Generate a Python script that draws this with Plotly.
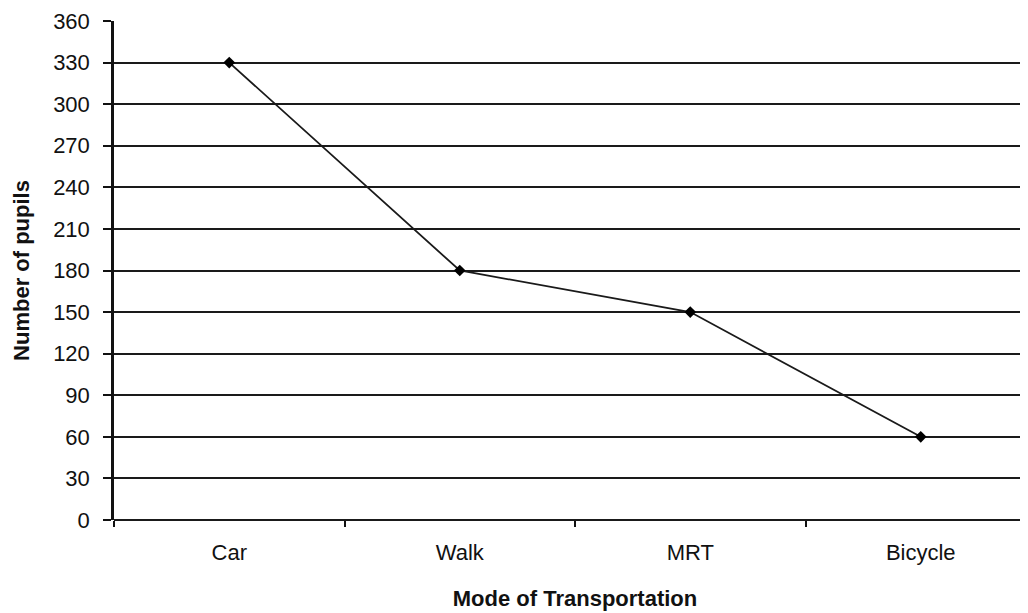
import plotly.graph_objects as go

categories = ["Car", "Walk", "MRT", "Bicycle"]
pupils = [330, 180, 150, 60]
y_ticks = list(range(0, 361, 30))

fig = go.Figure()
fig.add_trace(go.Scatter(
    x=categories, y=pupils, mode="lines+markers",
    line=dict(color="#1a1a1a", width=1.8),
    marker=dict(symbol="diamond", size=9, color="#000000"),
    showlegend=False,
))

font_family = "Liberation Sans, Arial, sans-serif"
fig.update_layout(
    width=1028, height=613,
    margin=dict(l=106, r=0, t=13, b=101),
    paper_bgcolor="white", plot_bgcolor="white",
    font=dict(family=font_family, color="#111111", size=22),
    xaxis=dict(
        type="category", range=[-0.5, 3.5], automargin=False,
        showgrid=False, showline=False, zeroline=False,
        ticks="outside", tickson="boundaries", ticklen=6, tickcolor="#111", tickwidth=1.5,
        tickfont=dict(size=22),
        ticklabelstandoff=17,
        title=dict(text="<b>Mode of Transportation</b>", font=dict(size=22), standoff=26),
    ),
    yaxis=dict(
        range=[0, 360], tickvals=y_ticks, automargin=False,
        showgrid=True, gridcolor="#1a1a1a", gridwidth=1.6,
        showline=True, linecolor="#111", linewidth=2.5,
        zeroline=True, zerolinecolor="#1a1a1a", zerolinewidth=1.6,
        ticks="outside", ticklen=8, tickcolor="#111", tickwidth=1.5,
        tickfont=dict(size=22),
        ticklabelstandoff=9,
        title=dict(text="<b>Number of pupils</b>", font=dict(size=22), standoff=18),
    ),
)

fig.write_html("out.html")
